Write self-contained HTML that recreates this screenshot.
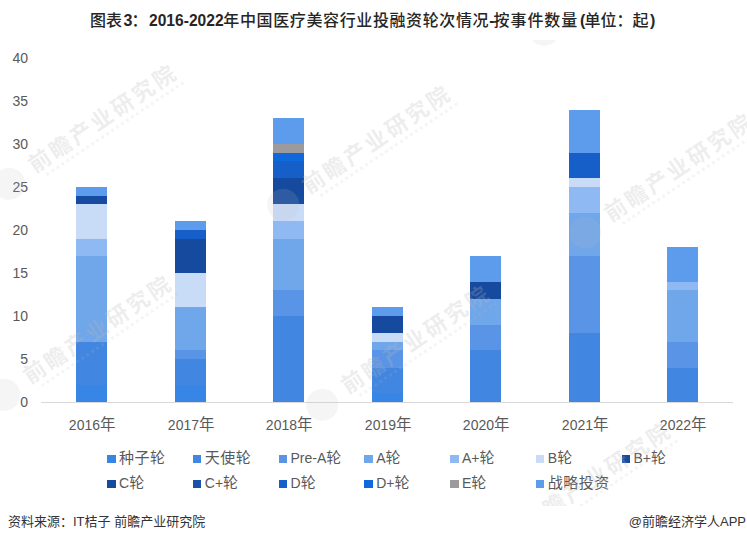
<!DOCTYPE html>
<html><head><meta charset="utf-8"><style>
html,body{margin:0;padding:0;background:#fff;}
body{width:747px;height:542px;position:relative;overflow:hidden;font-family:"Liberation Sans","Noto Sans CJK SC",sans-serif;}
.a{position:absolute;}
.t{position:absolute;white-space:nowrap;line-height:1;}
.title{top:13px;font-size:16px;font-weight:bold;color:#262626;}
.title.cj{font-weight:500;}
.title.dg{font-size:15.6px;top:13.3px;}
.title.cj2{font-weight:500;letter-spacing:0.62px;}
.title.cj3{font-weight:500;letter-spacing:0.9px;}
.yl{font-size:14px;color:#595959;text-align:right;width:30px;}
.xl{font-size:14px;color:#595959;text-align:center;width:80px;}
.nian{font-size:15.5px;}
.lg{font-size:14px;color:#595959;}
.lc{font-size:15px;letter-spacing:0.5px;}
.sq{position:absolute;width:8.5px;height:8px;}
.ft{font-size:13px;color:#333;}
.wmc{position:absolute;left:0;top:40px;width:747px;height:466px;overflow:hidden;}
.wmg{position:absolute;width:0;height:0;transform:rotate(-34deg);transform-origin:0 0;}
.wmt{position:absolute;left:-11px;top:-12px;font-size:22px;line-height:22px;font-weight:bold;letter-spacing:3px;color:rgba(185,185,185,0.25);white-space:nowrap;font-family:"Noto Sans CJK SC",sans-serif;}
.wms{position:absolute;left:-2px;top:15px;width:165px;height:0;border-top:3px dotted rgba(185,185,185,0.15);}
.wml{position:absolute;left:-54px;top:-13px;width:32px;height:32px;border-radius:50%;background:rgba(185,185,185,0.15);}
</style></head><body>
<div class="t title cj" style="left:90px">图表</div>
<div class="t title " style="left:123.4px">3</div>
<div class="t title cj" style="left:131.5px">：</div>
<div class="t title dg" style="left:149px">2016-2022</div>
<div class="t title cj2" style="left:223.3px">年中国医疗美容行业投融资轮次情况</div>
<div class="t title " style="left:489.3px">-</div>
<div class="t title cj3" style="left:493.6px">按事件数量</div>
<div class="t title " style="left:580px">(</div>
<div class="t title cj" style="left:584.5px">单位：起</div>
<div class="t title " style="left:650px">)</div>
<div class="t yl" style="left:-2px;top:395.0px">0</div>
<div class="t yl" style="left:-2px;top:352.0px">5</div>
<div class="t yl" style="left:-2px;top:309.0px">10</div>
<div class="t yl" style="left:-2px;top:266.0px">15</div>
<div class="t yl" style="left:-2px;top:223.0px">20</div>
<div class="t yl" style="left:-2px;top:180.0px">25</div>
<div class="t yl" style="left:-2px;top:137.0px">30</div>
<div class="t yl" style="left:-2px;top:94.0px">35</div>
<div class="t yl" style="left:-2px;top:51.0px">40</div>
<div class="a" style="left:41.0px;top:402.0px;width:692.0px;height:1px;background:#d9d9d9"></div>
<div class="a" style="left:76.0px;top:384.8px;width:31px;height:17.2px;background:#3786e6"></div>
<div class="a" style="left:76.0px;top:341.8px;width:31px;height:43.0px;background:#4186e0"></div>
<div class="a" style="left:76.0px;top:255.8px;width:31px;height:86.0px;background:#70a6ea"></div>
<div class="a" style="left:76.0px;top:238.6px;width:31px;height:17.2px;background:#8eb9f2"></div>
<div class="a" style="left:76.0px;top:204.2px;width:31px;height:34.4px;background:#c8dcf8"></div>
<div class="a" style="left:76.0px;top:195.6px;width:31px;height:8.6px;background:#174b9f"></div>
<div class="a" style="left:76.0px;top:187.0px;width:31px;height:8.6px;background:#5d9cec"></div>
<div class="t xl" style="left:52.2px;top:417.0px">2016<span class="nian">年</span></div>
<div class="a" style="left:175.0px;top:384.8px;width:31px;height:17.2px;background:#3786e6"></div>
<div class="a" style="left:175.0px;top:359.0px;width:31px;height:25.8px;background:#4186e0"></div>
<div class="a" style="left:175.0px;top:350.4px;width:31px;height:8.6px;background:#5a94e6"></div>
<div class="a" style="left:175.0px;top:307.4px;width:31px;height:43.0px;background:#70a6ea"></div>
<div class="a" style="left:175.0px;top:273.0px;width:31px;height:34.4px;background:#c8dcf8"></div>
<div class="a" style="left:175.0px;top:238.6px;width:31px;height:34.4px;background:#164a9e"></div>
<div class="a" style="left:175.0px;top:230.0px;width:31px;height:8.6px;background:#165ec8"></div>
<div class="a" style="left:175.0px;top:221.4px;width:31px;height:8.6px;background:#5d9cec"></div>
<div class="t xl" style="left:151.2px;top:417.0px">2017<span class="nian">年</span></div>
<div class="a" style="left:273.0px;top:316.0px;width:31px;height:86.0px;background:#4186e0"></div>
<div class="a" style="left:273.0px;top:290.2px;width:31px;height:25.8px;background:#5a94e6"></div>
<div class="a" style="left:273.0px;top:238.6px;width:31px;height:51.6px;background:#70a6ea"></div>
<div class="a" style="left:273.0px;top:221.4px;width:31px;height:17.2px;background:#8eb9f2"></div>
<div class="a" style="left:273.0px;top:204.2px;width:31px;height:17.2px;background:#c8dcf8"></div>
<div class="a" style="left:273.0px;top:195.6px;width:31px;height:8.6px;background:#174b9f"></div>
<div class="a" style="left:273.0px;top:178.4px;width:31px;height:17.2px;background:#164a9e"></div>
<div class="a" style="left:273.0px;top:161.2px;width:31px;height:17.2px;background:#165ec8"></div>
<div class="a" style="left:273.0px;top:152.6px;width:31px;height:8.6px;background:#0f68dc"></div>
<div class="a" style="left:273.0px;top:144.0px;width:31px;height:8.6px;background:#9c9a9c"></div>
<div class="a" style="left:273.0px;top:118.2px;width:31px;height:25.8px;background:#5d9cec"></div>
<div class="t xl" style="left:249.2px;top:417.0px">2018<span class="nian">年</span></div>
<div class="a" style="left:372.0px;top:393.4px;width:31px;height:8.6px;background:#3786e6"></div>
<div class="a" style="left:372.0px;top:367.6px;width:31px;height:25.8px;background:#4186e0"></div>
<div class="a" style="left:372.0px;top:350.4px;width:31px;height:17.2px;background:#5a94e6"></div>
<div class="a" style="left:372.0px;top:341.8px;width:31px;height:8.6px;background:#70a6ea"></div>
<div class="a" style="left:372.0px;top:333.2px;width:31px;height:8.6px;background:#c8dcf8"></div>
<div class="a" style="left:372.0px;top:316.0px;width:31px;height:17.2px;background:#164a9e"></div>
<div class="a" style="left:372.0px;top:307.4px;width:31px;height:8.6px;background:#5d9cec"></div>
<div class="t xl" style="left:348.2px;top:417.0px">2019<span class="nian">年</span></div>
<div class="a" style="left:470.0px;top:350.4px;width:31px;height:51.6px;background:#4186e0"></div>
<div class="a" style="left:470.0px;top:324.6px;width:31px;height:25.8px;background:#5a94e6"></div>
<div class="a" style="left:470.0px;top:298.8px;width:31px;height:25.8px;background:#70a6ea"></div>
<div class="a" style="left:470.0px;top:281.6px;width:31px;height:17.2px;background:#164a9e"></div>
<div class="a" style="left:470.0px;top:255.8px;width:31px;height:25.8px;background:#5d9cec"></div>
<div class="t xl" style="left:446.2px;top:417.0px">2020<span class="nian">年</span></div>
<div class="a" style="left:569.0px;top:333.2px;width:31px;height:68.8px;background:#4186e0"></div>
<div class="a" style="left:569.0px;top:255.8px;width:31px;height:77.4px;background:#5a94e6"></div>
<div class="a" style="left:569.0px;top:212.8px;width:31px;height:43.0px;background:#70a6ea"></div>
<div class="a" style="left:569.0px;top:187.0px;width:31px;height:25.8px;background:#8eb9f2"></div>
<div class="a" style="left:569.0px;top:178.4px;width:31px;height:8.6px;background:#c8dcf8"></div>
<div class="a" style="left:569.0px;top:152.6px;width:31px;height:25.8px;background:#165ec8"></div>
<div class="a" style="left:569.0px;top:109.6px;width:31px;height:43.0px;background:#5d9cec"></div>
<div class="t xl" style="left:545.2px;top:417.0px">2021<span class="nian">年</span></div>
<div class="a" style="left:667.0px;top:367.6px;width:31px;height:34.4px;background:#4186e0"></div>
<div class="a" style="left:667.0px;top:341.8px;width:31px;height:25.8px;background:#5a94e6"></div>
<div class="a" style="left:667.0px;top:290.2px;width:31px;height:51.6px;background:#70a6ea"></div>
<div class="a" style="left:667.0px;top:281.6px;width:31px;height:8.6px;background:#8eb9f2"></div>
<div class="a" style="left:667.0px;top:247.2px;width:31px;height:34.4px;background:#5d9cec"></div>
<div class="t xl" style="left:643.2px;top:417.0px">2022<span class="nian">年</span></div>
<div class="sq" style="left:107.0px;top:454.5px;background:#3786e6"></div>
<div class="t lg" style="left:119.0px;top:449.5px"><span class="lc">种子轮</span></div>
<div class="sq" style="left:192.8px;top:454.5px;background:#4186e0"></div>
<div class="t lg" style="left:204.8px;top:449.5px"><span class="lc">天使轮</span></div>
<div class="sq" style="left:278.5px;top:454.5px;background:#5a94e6"></div>
<div class="t lg" style="left:290.5px;top:449.5px">Pre-A<span class="lc">轮</span></div>
<div class="sq" style="left:364.2px;top:454.5px;background:#70a6ea"></div>
<div class="t lg" style="left:376.2px;top:449.5px">A<span class="lc">轮</span></div>
<div class="sq" style="left:450.0px;top:454.5px;background:#8eb9f2"></div>
<div class="t lg" style="left:462.0px;top:449.5px">A+<span class="lc">轮</span></div>
<div class="sq" style="left:535.8px;top:454.5px;background:#c8dcf8"></div>
<div class="t lg" style="left:547.8px;top:449.5px">B<span class="lc">轮</span></div>
<div class="sq" style="left:621.5px;top:454.5px;background:#174b9f"></div>
<div class="t lg" style="left:633.5px;top:449.5px">B+<span class="lc">轮</span></div>
<div class="sq" style="left:107.0px;top:480.3px;background:#164a9e"></div>
<div class="t lg" style="left:119.0px;top:475.3px">C<span class="lc">轮</span></div>
<div class="sq" style="left:192.8px;top:480.3px;background:#1752a8"></div>
<div class="t lg" style="left:204.8px;top:475.3px">C+<span class="lc">轮</span></div>
<div class="sq" style="left:278.5px;top:480.3px;background:#165ec8"></div>
<div class="t lg" style="left:290.5px;top:475.3px">D<span class="lc">轮</span></div>
<div class="sq" style="left:364.2px;top:480.3px;background:#0f68dc"></div>
<div class="t lg" style="left:376.2px;top:475.3px">D+<span class="lc">轮</span></div>
<div class="sq" style="left:450.0px;top:480.3px;background:#9c9a9c"></div>
<div class="t lg" style="left:462.0px;top:475.3px">E<span class="lc">轮</span></div>
<div class="sq" style="left:535.8px;top:480.3px;background:#5d9cec"></div>
<div class="t lg" style="left:547.8px;top:475.3px"><span class="lc">战略投资</span></div>
<div class="wmc">
<div class="wmg" style="left:574px;top:-34px"><div class="wml"></div><div class="wmt">前瞻产业研究院</div><div class="wms"></div></div>
<div class="wmg" style="left:38.7px;top:120px"><div class="wml"></div><div class="wmt">前瞻产业研究院</div><div class="wms"></div></div>
<div class="wmg" style="left:313px;top:141px"><div class="wml"></div><div class="wmt">前瞻产业研究院</div><div class="wms"></div></div>
<div class="wmg" style="left:615px;top:169px"><div class="wml"></div><div class="wmt">前瞻产业研究院</div><div class="wms"></div></div>
<div class="wmg" style="left:34px;top:331px"><div class="wml"></div><div class="wmt">前瞻产业研究院</div><div class="wms"></div></div>
<div class="wmg" style="left:351.5px;top:341px"><div class="wml"></div><div class="wmt">前瞻产业研究院</div><div class="wms"></div></div>
<div class="wmg" style="left:533px;top:478px"><div class="wml"></div><div class="wmt">前瞻产业研究院</div><div class="wms"></div></div>
</div>
<div class="t ft" style="left:8px;top:515px">资料来源：IT桔子 前瞻产业研究院</div>
<div class="t ft" style="right:1px;top:515px">@前瞻经济学人APP</div>
</body></html>
